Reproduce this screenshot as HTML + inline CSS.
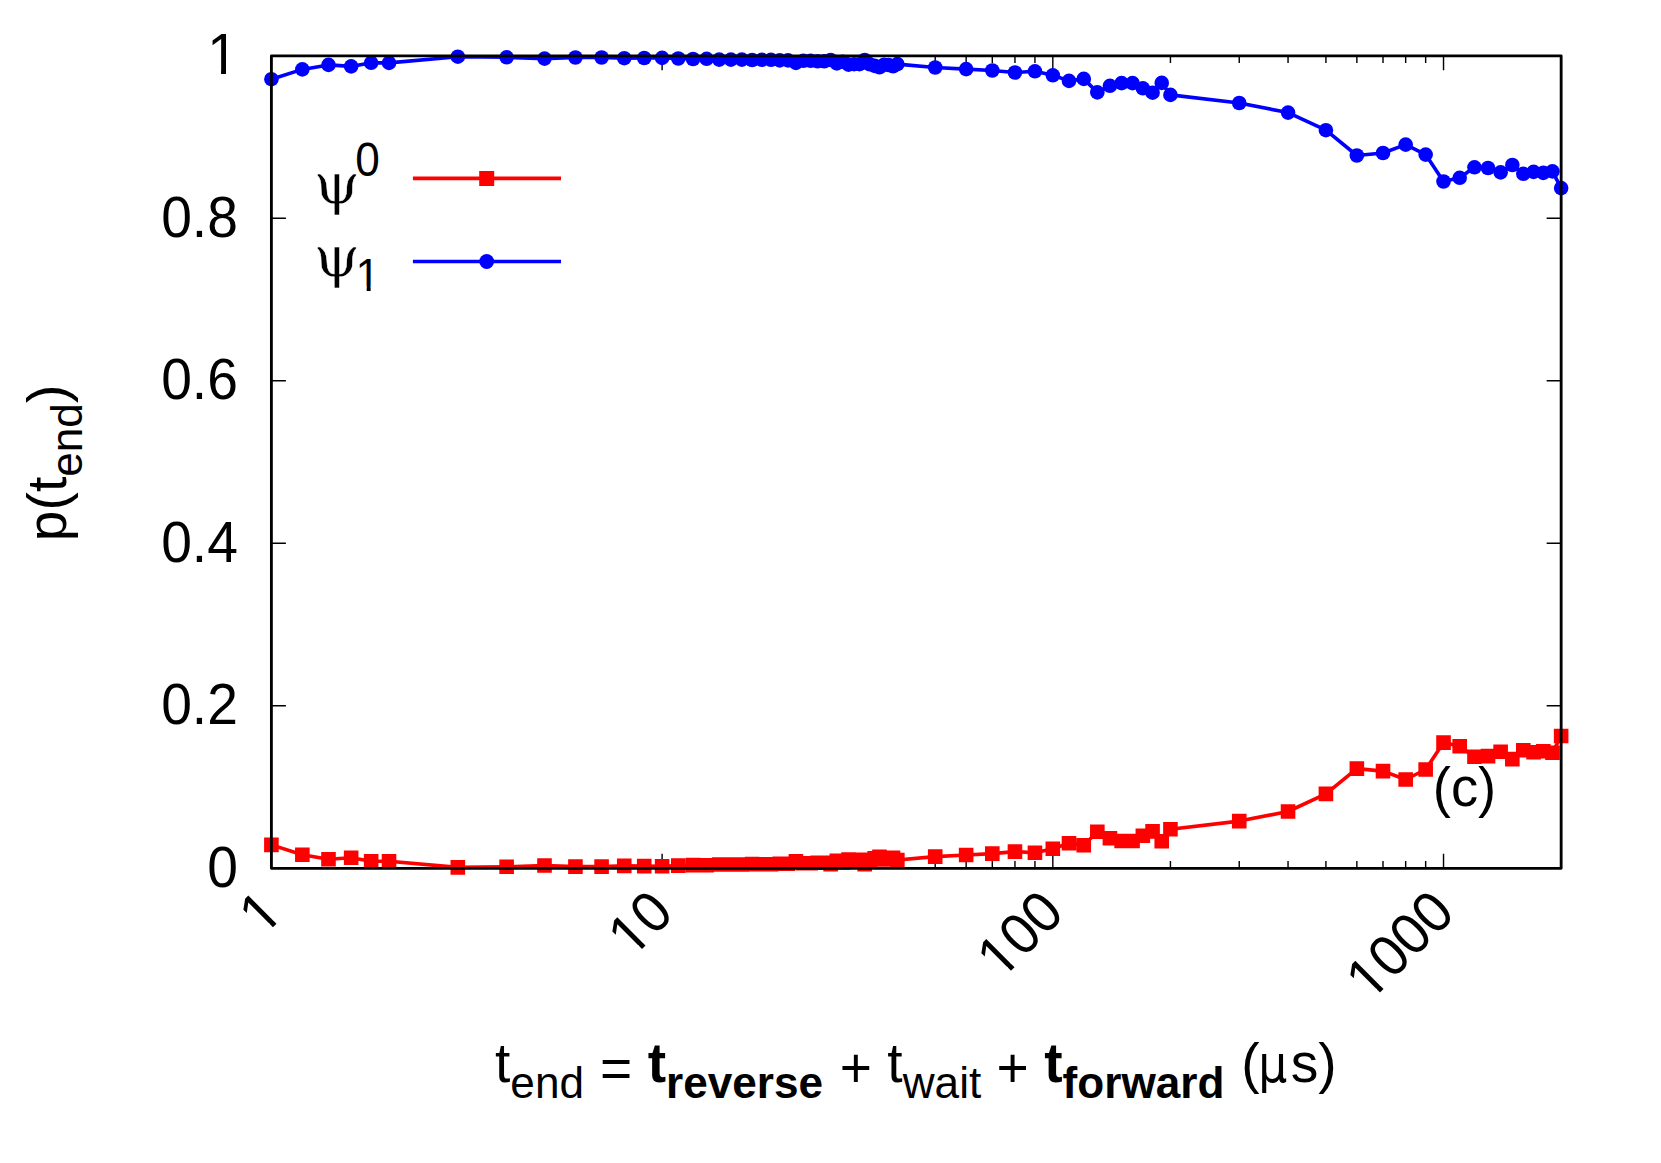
<!DOCTYPE html>
<html lang="en"><head><meta charset="utf-8"><title>p(t_end) vs t_end (c)</title>
<style>
html,body{margin:0;padding:0;background:#fff;}
body{width:1661px;height:1163px;overflow:hidden;}
svg{display:block;}
text{font-family:"Liberation Sans",sans-serif;fill:#000;}
.sym{font-family:"DejaVu Serif",serif;stroke:#fff;stroke-width:0.5px;}
.b{font-weight:bold;}
.mu{font-family:"DejaVu Sans Condensed","DejaVu Sans",sans-serif;}
</style></head><body>
<svg width="1661" height="1163" viewBox="0 0 1661 1163">
<rect width="1661" height="1163" fill="#fff"/>
<path d="M271.4 868.3h14.5M1561.15 868.3h-14.5M271.4 705.8h14.5M1561.15 705.8h-14.5M271.4 543.3h14.5M1561.15 543.3h-14.5M271.4 380.8h14.5M1561.15 380.8h-14.5M271.4 218.3h14.5M1561.15 218.3h-14.5M271.4 55.8h14.5M1561.15 55.8h-14.5M271.4 868.3v-14.5M271.4 55.8v14.5M389.02 868.3v-7.25M389.02 55.8v7.25M457.82 868.3v-7.25M457.82 55.8v7.25M506.63 868.3v-7.25M506.63 55.8v7.25M544.5 868.3v-7.25M544.5 55.8v7.25M575.43 868.3v-7.25M575.43 55.8v7.25M601.59 868.3v-7.25M601.59 55.8v7.25M624.25 868.3v-7.25M624.25 55.8v7.25M644.23 868.3v-7.25M644.23 55.8v7.25M662.11 868.3v-14.5M662.11 55.8v14.5M779.73 868.3v-7.25M779.73 55.8v7.25M848.53 868.3v-7.25M848.53 55.8v7.25M897.34 868.3v-7.25M897.34 55.8v7.25M935.21 868.3v-7.25M935.21 55.8v7.25M966.14 868.3v-7.25M966.14 55.8v7.25M992.3 868.3v-7.25M992.3 55.8v7.25M1014.96 868.3v-7.25M1014.96 55.8v7.25M1034.94 868.3v-7.25M1034.94 55.8v7.25M1052.82 868.3v-14.5M1052.82 55.8v14.5M1170.44 868.3v-7.25M1170.44 55.8v7.25M1239.24 868.3v-7.25M1239.24 55.8v7.25M1288.05 868.3v-7.25M1288.05 55.8v7.25M1325.92 868.3v-7.25M1325.92 55.8v7.25M1356.86 868.3v-7.25M1356.86 55.8v7.25M1383.01 868.3v-7.25M1383.01 55.8v7.25M1405.67 868.3v-7.25M1405.67 55.8v7.25M1425.66 868.3v-7.25M1425.66 55.8v7.25M1443.53 868.3v-14.5M1443.53 55.8v14.5M1561.15 868.3v-7.25M1561.15 55.8v7.25" stroke="#000" stroke-width="1.42" fill="none"/>
<g fill="#ff0000" stroke="none">
<polyline fill="none" stroke="#ff0000" stroke-width="3.6" stroke-linejoin="round" stroke-linecap="butt" points="271.4,844.9 302.34,854.7 328.49,859.2 351.15,857.7 371.14,861.3 389.02,861.2 457.82,867.4 506.63,866.8 544.5,865.5 575.43,866.6 601.59,866.6 624.25,865.9 644.23,866.1 662.11,866.2 678.28,865.6 693.05,865.1 706.63,865.3 719.21,864.5 730.91,864.5 741.86,864.5 752.15,864.1 761.85,864.3 771.02,864.3 779.73,863.7 788.01,863.7 795.9,861.2 803.44,863.3 810.66,863.3 817.59,862.8 824.25,862.8 830.65,864.1 836.82,860.7 842.78,862.4 848.53,859.5 854.09,859.9 859.48,859.9 864.7,864.1 869.77,859.8 874.68,858.2 879.47,856.8 884.11,859.4 888.64,859.1 893.05,857.8 897.34,860 935.21,856.6 966.14,855 992.3,853.6 1014.96,851.6 1034.94,852.8 1052.82,848.8 1069,843.2 1083.76,845.2 1097.34,831.7 1109.92,838.3 1121.62,841 1132.57,841 1142.86,835.8 1152.56,831.4 1161.73,841.2 1170.44,829.2 1239.24,821.1 1288.05,811.5 1325.92,793.9 1356.86,768.6 1383.01,771.1 1405.67,779.5 1425.66,769.5 1443.53,742.6 1459.71,746.3 1474.47,756.8 1488.05,756.1 1500.63,751.7 1512.34,759.1 1523.29,750.3 1533.57,752.2 1543.27,751.2 1552.45,752.7 1561.15,736"/>
<path d="M264.1 837.6h14.6v14.6h-14.6zM295.04 847.4h14.6v14.6h-14.6zM321.19 851.9h14.6v14.6h-14.6zM343.85 850.4h14.6v14.6h-14.6zM363.84 854h14.6v14.6h-14.6zM381.72 853.9h14.6v14.6h-14.6zM450.52 860.1h14.6v14.6h-14.6zM499.33 859.5h14.6v14.6h-14.6zM537.2 858.2h14.6v14.6h-14.6zM568.13 859.3h14.6v14.6h-14.6zM594.29 859.3h14.6v14.6h-14.6zM616.95 858.6h14.6v14.6h-14.6zM636.93 858.8h14.6v14.6h-14.6zM654.81 858.9h14.6v14.6h-14.6zM670.98 858.3h14.6v14.6h-14.6zM685.75 857.8h14.6v14.6h-14.6zM699.33 858h14.6v14.6h-14.6zM711.91 857.2h14.6v14.6h-14.6zM723.61 857.2h14.6v14.6h-14.6zM734.56 857.2h14.6v14.6h-14.6zM744.85 856.8h14.6v14.6h-14.6zM754.55 857h14.6v14.6h-14.6zM763.72 857h14.6v14.6h-14.6zM772.43 856.4h14.6v14.6h-14.6zM780.71 856.4h14.6v14.6h-14.6zM788.6 853.9h14.6v14.6h-14.6zM796.14 856h14.6v14.6h-14.6zM803.36 856h14.6v14.6h-14.6zM810.29 855.5h14.6v14.6h-14.6zM816.95 855.5h14.6v14.6h-14.6zM823.35 856.8h14.6v14.6h-14.6zM829.52 853.4h14.6v14.6h-14.6zM835.48 855.1h14.6v14.6h-14.6zM841.23 852.2h14.6v14.6h-14.6zM846.79 852.6h14.6v14.6h-14.6zM852.18 852.6h14.6v14.6h-14.6zM857.4 856.8h14.6v14.6h-14.6zM862.47 852.5h14.6v14.6h-14.6zM867.38 850.9h14.6v14.6h-14.6zM872.17 849.5h14.6v14.6h-14.6zM876.81 852.1h14.6v14.6h-14.6zM881.34 851.8h14.6v14.6h-14.6zM885.75 850.5h14.6v14.6h-14.6zM890.04 852.7h14.6v14.6h-14.6zM927.91 849.3h14.6v14.6h-14.6zM958.84 847.7h14.6v14.6h-14.6zM985 846.3h14.6v14.6h-14.6zM1007.66 844.3h14.6v14.6h-14.6zM1027.64 845.5h14.6v14.6h-14.6zM1045.52 841.5h14.6v14.6h-14.6zM1061.7 835.9h14.6v14.6h-14.6zM1076.46 837.9h14.6v14.6h-14.6zM1090.04 824.4h14.6v14.6h-14.6zM1102.62 831h14.6v14.6h-14.6zM1114.32 833.7h14.6v14.6h-14.6zM1125.27 833.7h14.6v14.6h-14.6zM1135.56 828.5h14.6v14.6h-14.6zM1145.26 824.1h14.6v14.6h-14.6zM1154.43 833.9h14.6v14.6h-14.6zM1163.14 821.9h14.6v14.6h-14.6zM1231.94 813.8h14.6v14.6h-14.6zM1280.75 804.2h14.6v14.6h-14.6zM1318.62 786.6h14.6v14.6h-14.6zM1349.56 761.3h14.6v14.6h-14.6zM1375.71 763.8h14.6v14.6h-14.6zM1398.37 772.2h14.6v14.6h-14.6zM1418.36 762.2h14.6v14.6h-14.6zM1436.23 735.3h14.6v14.6h-14.6zM1452.41 739h14.6v14.6h-14.6zM1467.17 749.5h14.6v14.6h-14.6zM1480.75 748.8h14.6v14.6h-14.6zM1493.33 744.4h14.6v14.6h-14.6zM1505.04 751.8h14.6v14.6h-14.6zM1515.99 743h14.6v14.6h-14.6zM1526.27 744.9h14.6v14.6h-14.6zM1535.97 743.9h14.6v14.6h-14.6zM1545.15 745.4h14.6v14.6h-14.6zM1553.85 728.7h14.6v14.6h-14.6z"/>
</g>
<g fill="#0000ff" stroke="none">
<polyline fill="none" stroke="#0000ff" stroke-width="3.6" stroke-linejoin="round" stroke-linecap="butt" points="271.4,79.2 302.34,69.4 328.49,64.9 351.15,66.4 371.14,62.8 389.02,62.9 457.82,56.7 506.63,57.3 544.5,58.6 575.43,57.5 601.59,57.5 624.25,58.2 644.23,58 662.11,57.9 678.28,58.5 693.05,59 706.63,58.8 719.21,59.6 730.91,59.6 741.86,59.6 752.15,60 761.85,59.8 771.02,59.8 779.73,60.4 788.01,60.4 795.9,62.9 803.44,60.8 810.66,60.8 817.59,61.3 824.25,61.3 830.65,60 836.82,63.4 842.78,61.7 848.53,64.6 854.09,64.2 859.48,64.2 864.7,60 869.77,64.3 874.68,65.9 879.47,67.3 884.11,64.7 888.64,65 893.05,66.3 897.34,64.1 935.21,67.5 966.14,69.1 992.3,70.5 1014.96,72.5 1034.94,71.3 1052.82,75.3 1069,80.9 1083.76,78.9 1097.34,92.4 1109.92,85.8 1121.62,83.1 1132.57,83.1 1142.86,88.3 1152.56,92.7 1161.73,82.9 1170.44,94.9 1239.24,103 1288.05,112.6 1325.92,130.2 1356.86,155.5 1383.01,153 1405.67,144.6 1425.66,154.6 1443.53,181.5 1459.71,177.8 1474.47,167.3 1488.05,168 1500.63,172.4 1512.34,165 1523.29,173.8 1533.57,171.9 1543.27,172.9 1552.45,171.4 1561.15,188.1"/>
<circle cx="271.4" cy="79.2" r="7.3"/>
<circle cx="302.34" cy="69.4" r="7.3"/>
<circle cx="328.49" cy="64.9" r="7.3"/>
<circle cx="351.15" cy="66.4" r="7.3"/>
<circle cx="371.14" cy="62.8" r="7.3"/>
<circle cx="389.02" cy="62.9" r="7.3"/>
<circle cx="457.82" cy="56.7" r="7.3"/>
<circle cx="506.63" cy="57.3" r="7.3"/>
<circle cx="544.5" cy="58.6" r="7.3"/>
<circle cx="575.43" cy="57.5" r="7.3"/>
<circle cx="601.59" cy="57.5" r="7.3"/>
<circle cx="624.25" cy="58.2" r="7.3"/>
<circle cx="644.23" cy="58" r="7.3"/>
<circle cx="662.11" cy="57.9" r="7.3"/>
<circle cx="678.28" cy="58.5" r="7.3"/>
<circle cx="693.05" cy="59" r="7.3"/>
<circle cx="706.63" cy="58.8" r="7.3"/>
<circle cx="719.21" cy="59.6" r="7.3"/>
<circle cx="730.91" cy="59.6" r="7.3"/>
<circle cx="741.86" cy="59.6" r="7.3"/>
<circle cx="752.15" cy="60" r="7.3"/>
<circle cx="761.85" cy="59.8" r="7.3"/>
<circle cx="771.02" cy="59.8" r="7.3"/>
<circle cx="779.73" cy="60.4" r="7.3"/>
<circle cx="788.01" cy="60.4" r="7.3"/>
<circle cx="795.9" cy="62.9" r="7.3"/>
<circle cx="803.44" cy="60.8" r="7.3"/>
<circle cx="810.66" cy="60.8" r="7.3"/>
<circle cx="817.59" cy="61.3" r="7.3"/>
<circle cx="824.25" cy="61.3" r="7.3"/>
<circle cx="830.65" cy="60" r="7.3"/>
<circle cx="836.82" cy="63.4" r="7.3"/>
<circle cx="842.78" cy="61.7" r="7.3"/>
<circle cx="848.53" cy="64.6" r="7.3"/>
<circle cx="854.09" cy="64.2" r="7.3"/>
<circle cx="859.48" cy="64.2" r="7.3"/>
<circle cx="864.7" cy="60" r="7.3"/>
<circle cx="869.77" cy="64.3" r="7.3"/>
<circle cx="874.68" cy="65.9" r="7.3"/>
<circle cx="879.47" cy="67.3" r="7.3"/>
<circle cx="884.11" cy="64.7" r="7.3"/>
<circle cx="888.64" cy="65" r="7.3"/>
<circle cx="893.05" cy="66.3" r="7.3"/>
<circle cx="897.34" cy="64.1" r="7.3"/>
<circle cx="935.21" cy="67.5" r="7.3"/>
<circle cx="966.14" cy="69.1" r="7.3"/>
<circle cx="992.3" cy="70.5" r="7.3"/>
<circle cx="1014.96" cy="72.5" r="7.3"/>
<circle cx="1034.94" cy="71.3" r="7.3"/>
<circle cx="1052.82" cy="75.3" r="7.3"/>
<circle cx="1069" cy="80.9" r="7.3"/>
<circle cx="1083.76" cy="78.9" r="7.3"/>
<circle cx="1097.34" cy="92.4" r="7.3"/>
<circle cx="1109.92" cy="85.8" r="7.3"/>
<circle cx="1121.62" cy="83.1" r="7.3"/>
<circle cx="1132.57" cy="83.1" r="7.3"/>
<circle cx="1142.86" cy="88.3" r="7.3"/>
<circle cx="1152.56" cy="92.7" r="7.3"/>
<circle cx="1161.73" cy="82.9" r="7.3"/>
<circle cx="1170.44" cy="94.9" r="7.3"/>
<circle cx="1239.24" cy="103" r="7.3"/>
<circle cx="1288.05" cy="112.6" r="7.3"/>
<circle cx="1325.92" cy="130.2" r="7.3"/>
<circle cx="1356.86" cy="155.5" r="7.3"/>
<circle cx="1383.01" cy="153" r="7.3"/>
<circle cx="1405.67" cy="144.6" r="7.3"/>
<circle cx="1425.66" cy="154.6" r="7.3"/>
<circle cx="1443.53" cy="181.5" r="7.3"/>
<circle cx="1459.71" cy="177.8" r="7.3"/>
<circle cx="1474.47" cy="167.3" r="7.3"/>
<circle cx="1488.05" cy="168" r="7.3"/>
<circle cx="1500.63" cy="172.4" r="7.3"/>
<circle cx="1512.34" cy="165" r="7.3"/>
<circle cx="1523.29" cy="173.8" r="7.3"/>
<circle cx="1533.57" cy="171.9" r="7.3"/>
<circle cx="1543.27" cy="172.9" r="7.3"/>
<circle cx="1552.45" cy="171.4" r="7.3"/>
<circle cx="1561.15" cy="188.1" r="7.3"/>
</g>
<path d="M412.9 178.4H561" stroke="#ff0000" stroke-width="3.6" fill="none"/>
<rect x="479.2" y="171" width="15" height="15" fill="#ff0000"/>
<path d="M412.9 261.5H561" stroke="#0000ff" stroke-width="3.6" fill="none"/>
<circle cx="486.7" cy="261.5" r="7.4" fill="#0000ff"/>
<rect x="271.4" y="55.8" width="1289.75" height="812.5" fill="none" stroke="#000" stroke-width="2.84" stroke-linejoin="round"/>
<defs><clipPath id="c1" clipPathUnits="userSpaceOnUse"><path d="M-20 -66.24H55.2V-5.32H18.79V5.52H13.85V-5.32H-20Z"/></clipPath><clipPath id="c1s" clipPathUnits="userSpaceOnUse"><path d="M-20 -52.99H44.16V-4.5H15.03V4.42H11.08V-4.5H-20Z"/></clipPath></defs>
<text transform="translate(237.9,886.9) scale(1,1.05)" font-size="55.2" text-anchor="end">0</text>
<text transform="translate(237.9,724.4) scale(1,1.05)" font-size="55.2" text-anchor="end">0.2</text>
<text transform="translate(237.9,561.9) scale(1,1.05)" font-size="55.2" text-anchor="end">0.4</text>
<text transform="translate(237.9,399.4) scale(1,1.05)" font-size="55.2" text-anchor="end">0.6</text>
<text transform="translate(237.9,236.9) scale(1,1.05)" font-size="55.2" text-anchor="end">0.8</text>
<g transform="translate(237.9,74.4) scale(1,1.05)" font-size="55.2"><text transform="translate(-30.7,0)" clip-path="url(#c1)">1</text></g>
<g transform="translate(284.9,915.4) rotate(-45) scale(1,1.05)" font-size="55.2"><text transform="translate(-30.7,0)" clip-path="url(#c1)">1</text></g>
<g transform="translate(675.61,915.4) rotate(-45) scale(1,1.05)" font-size="55.2"><text transform="translate(-61.4,0)" clip-path="url(#c1)">1</text><text text-anchor="end">0</text></g>
<g transform="translate(1066.32,915.4) rotate(-45) scale(1,1.05)" font-size="55.2"><text transform="translate(-92.1,0)" clip-path="url(#c1)">1</text><text text-anchor="end">00</text></g>
<g transform="translate(1457.03,915.4) rotate(-45) scale(1,1.05)" font-size="55.2"><text transform="translate(-122.8,0)" clip-path="url(#c1)">1</text><text text-anchor="end">000</text></g>
<text transform="translate(1432.8,806.3) scale(0.985,1)" font-size="55.2">(c)</text>
<text transform="translate(313.7,203) scale(1.066,1.008)" font-size="55.2" class="sym">ψ</text>
<text transform="translate(355.2,175.6) scale(1,1.08)" font-size="44.16">0</text>
<text transform="translate(313.7,275.6) scale(1.066,1.008)" font-size="55.2" class="sym">ψ</text>
<g transform="translate(380.16,291.2) scale(1,1.05)" font-size="44.16"><text transform="translate(-24.56,0)" clip-path="url(#c1s)">1</text></g>
<text transform="translate(66.0,541.2) rotate(-90) scale(1,1.015)" font-size="55.2">p(t<tspan font-size="44.16" dy="15.96">end</tspan><tspan dy="-15.96">)</tspan></text>
<text transform="translate(495,1082.2) scale(1,1.015)" font-size="55.2">t<tspan font-size="44.16" dy="15.96">end</tspan><tspan dy="-11.72" dx="0.7"> = </tspan><tspan class="b" dy="-4.24">t</tspan><tspan class="b" font-size="44.16" dy="15.96">reverse</tspan><tspan dy="-11.03" dx="1.3"> + </tspan><tspan dy="-4.93">t</tspan><tspan font-size="44.16" dy="15.96">wait</tspan><tspan dy="-11.03"> + </tspan><tspan class="b" dy="-4.93">t</tspan><tspan class="b" font-size="44.16" dy="15.96">forward</tspan><tspan dy="-15.96" dx="1.5"> (<tspan class="mu" font-size="50.78" dx="-1.4">μ</tspan><tspan dx="3.4">s)</tspan></tspan></text>
</svg></body></html>
